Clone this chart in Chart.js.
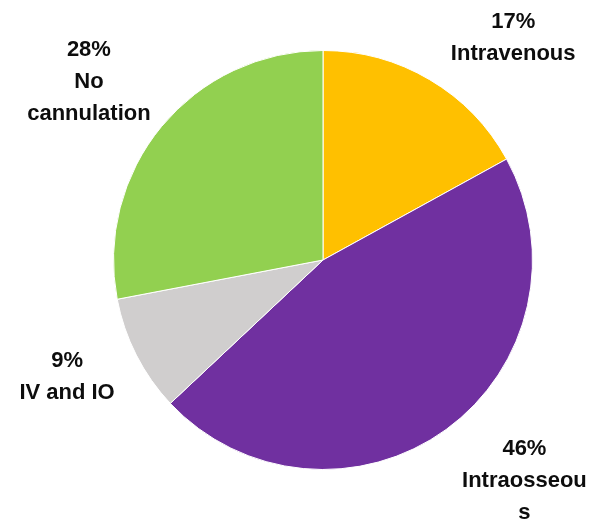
<!DOCTYPE html>
<html>
<head>
<meta charset="utf-8">
<script src="https://cdn.jsdelivr.net/npm/chart.js@4"></script>
<style>
  html, body { margin: 0; padding: 0; background: #fff; }
  #wrap { width: 592px; height: 522px; }
</style>
</head>
<body>
<div id="wrap"><canvas id="pie"></canvas></div>
<script>
// Chart data
const categories = ['Intravenous', 'Intraosseous', 'IV and IO', 'No cannulation'];
const shares = [17, 46, 9, 28];
// how the labels wrap in the original picture
const labelLines = [['Intravenous'], ['Intraosseou', 's'], ['IV and IO'], ['No', 'cannulation']];
const sliceColors = ['#FFC000', '#7030A0', '#D0CECE', '#92D050'];

// small hand tweaks so the labels sit where the original put them
const labelNudge = [[10, 0], [3, 0], [-2, 0], [6, -4]];

// Draw the "xx% / name" labels outside each slice
const outsideLabels = {
    id: 'outsideLabels',
    afterDatasetsDraw(chart) {
        const ctx = chart.ctx;
        const meta = chart.getDatasetMeta(0);
        const lineH = 32;
        ctx.save();
        ctx.font = 'bold 22px "Liberation Sans", Arial, sans-serif';
        ctx.fillStyle = '#0d0d0d';
        ctx.textAlign = 'center';
        ctx.textBaseline = 'middle';
        meta.data.forEach((arc, i) => {
            const mid = (arc.startAngle + arc.endAngle) / 2;
            const r = arc.outerRadius + 16;
            const ax = arc.x + Math.cos(mid) * (r + 6);
            const ay = arc.y + Math.sin(mid) * r;
            const lines = [shares[i] + '%'].concat(labelLines[i]);
            const w = Math.max(...lines.map(l => ctx.measureText(l).width));
            const h = lines.length * lineH;
            // sin/cos measured from 12 o'clock
            const up = -Math.sin(mid);
            const cx = (Math.cos(mid) >= 0 ? ax + w / 2 : ax - w / 2) + labelNudge[i][0];
            const top = ay - h * (1 + up) / 2 + labelNudge[i][1];
            lines.forEach((l, k) => {
                ctx.fillText(l, cx, top + lineH / 2 + k * lineH);
            });
        });
        ctx.restore();
    }
};

new Chart(document.getElementById('pie'), {
    type: 'pie',
    data: {
        labels: categories,
        datasets: [{
            data: shares,
            backgroundColor: sliceColors,
            borderColor: '#ffffff',
            borderWidth: 1
        }]
    },
    options: {
        responsive: true,
        maintainAspectRatio: false,
        animation: false,
        layout: {
            padding: { left: 113, right: 59, top: 50, bottom: 52 }
        },
        plugins: {
            legend: { display: false },
            tooltip: { enabled: false }
        }
    },
    plugins: [outsideLabels]
});
</script>
</body>
</html>
